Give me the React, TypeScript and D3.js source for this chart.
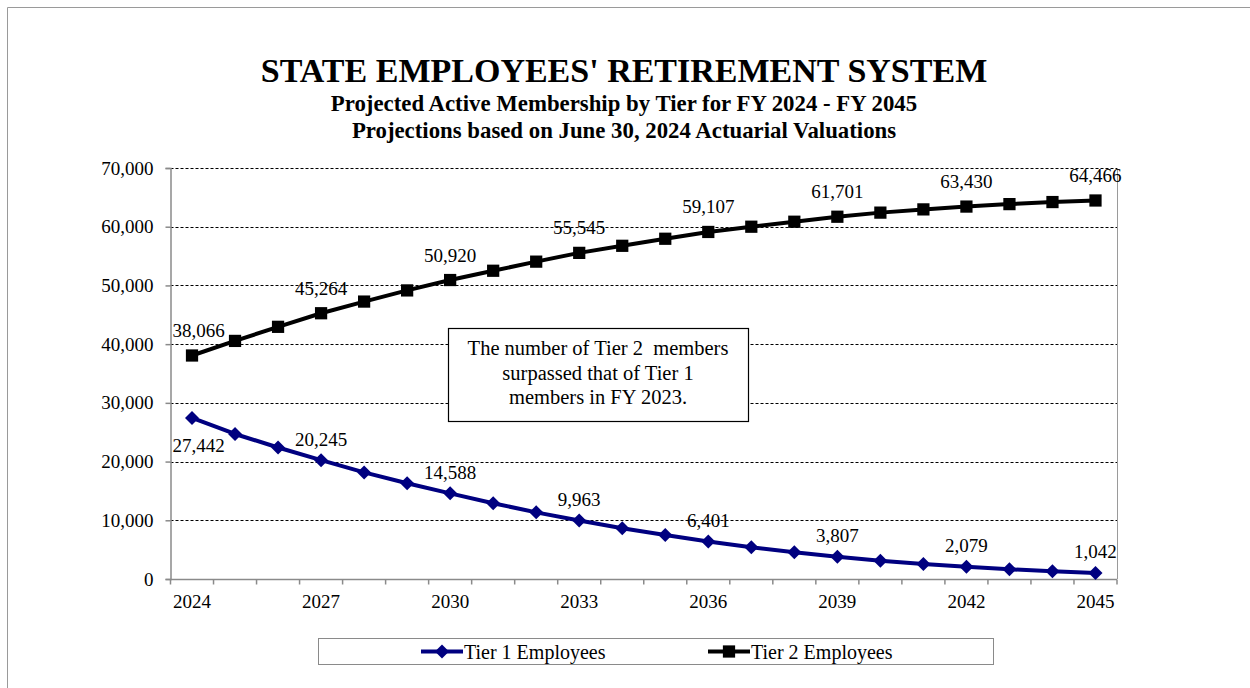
import { useEffect, useRef } from 'react';
import * as d3 from 'd3';

const years = [2024, 2025, 2026, 2027, 2028, 2029, 2030, 2031, 2032, 2033, 2034, 2035, 2036, 2037, 2038, 2039, 2040, 2041, 2042, 2043, 2044, 2045];
const tier1 = [27442, 24700, 22400, 20245, 18150, 16300, 14588, 12900, 11350, 9963, 8650, 7500, 6401, 5400, 4550, 3807, 3100, 2550, 2079, 1650, 1320, 1042];
const tier2 = [38066, 40550, 42950, 45264, 47250, 49150, 50920, 52500, 54050, 55545, 56750, 57950, 59107, 60000, 60850, 61701, 62400, 62950, 63430, 63850, 64200, 64466];
const yTicks = [0, 10000, 20000, 30000, 40000, 50000, 60000, 70000];
const seriesNames = ['Tier 1 Employees', 'Tier 2 Employees'];
const title = "STATE EMPLOYEES' RETIREMENT SYSTEM";
const subtitles = [
  'Projected Active Membership by Tier for FY 2024 - FY 2045',
  'Projections based on June 30, 2024 Actuarial Valuations',
];
const note = ['The number of Tier 2  members', 'surpassed that of Tier 1', 'members in FY 2023.'];

const FONT = '"Liberation Serif", "Times New Roman", "DejaVu Serif", serif';
const NAVY = '#000080';

export default function App() {
  const svgRef = useRef<SVGSVGElement | null>(null);

  useEffect(() => {
    const width = 1250;
    const height = 688;
    const margin = { top: 168, right: 133, bottom: 109, left: 170.5 };

    const svg = d3.select(svgRef.current);
    svg.selectAll('*').remove();
    svg.attr('width', width).attr('height', height).style('font-family', FONT).style('display', 'block');

    svg.append('rect').attr('width', width).attr('height', height).attr('fill', '#fff');

    // outer chart border, only left and top fall inside the view
    svg.append('path')
      .attr('d', `M7.5,${height}V7.5H${width}`)
      .attr('fill', 'none')
      .attr('stroke', '#9a9a9a')
      .attr('stroke-width', 1);

    const xScale = d3.scaleBand<number>()
      .domain(years)
      .range([margin.left, width - margin.right])
      .padding(0);

    const yScale = d3.scaleLinear()
      .domain([0, 70000])
      .range([height - margin.bottom, margin.top]);

    const cx = (yr: number) => xScale(yr)! + xScale.bandwidth() / 2;
    const plotRight = width - margin.right;
    const plotBottom = height - margin.bottom;

    // titles
    svg.append('text')
      .attr('x', 624).attr('y', 82)
      .attr('text-anchor', 'middle')
      .attr('font-size', 34).attr('font-weight', 'bold')
      .text(title);
    subtitles.forEach((s, i) => {
      svg.append('text')
        .attr('x', 624).attr('y', 111 + i * 27)
        .attr('text-anchor', 'middle')
        .attr('font-size', 22.8).attr('font-weight', 'bold')
        .text(s);
    });

    const g = svg.append('g');

    // gridlines
    g.selectAll('line.grid')
      .data(yTicks.filter(d => d > 0))
      .enter()
      .append('line')
      .attr('class', 'grid')
      .attr('x1', margin.left).attr('x2', plotRight)
      .attr('y1', d => Math.round(yScale(d)) + 0.5)
      .attr('y2', d => Math.round(yScale(d)) + 0.5)
      .attr('stroke', '#000')
      .attr('stroke-width', 1)
      .attr('stroke-dasharray', '3,2');

    // right border of plot area
    g.append('line')
      .attr('x1', plotRight + 0.5).attr('x2', plotRight + 0.5)
      .attr('y1', margin.top).attr('y2', plotBottom)
      .attr('stroke', '#9a9a9a');

    // y axis
    const yAxis = g.append('g')
      .attr('transform', `translate(${margin.left},0)`)
      .call(d3.axisLeft(yScale).tickValues(yTicks).tickSize(5).tickPadding(12).tickFormat(d => d3.format(',')(+d)));
    yAxis.select('.domain').attr('stroke', '#8a8a8a').attr('stroke-width', 1.5);
    yAxis.selectAll('.tick line').attr('stroke', '#8a8a8a').attr('stroke-width', 1.5);
    yAxis.selectAll('.tick text')
      .attr('fill', '#000')
      .attr('font-size', 19)
      .attr('font-family', FONT);

    // x axis
    const xAxisG = g.append('g');
    xAxisG.append('line')
      .attr('x1', margin.left).attr('x2', plotRight)
      .attr('y1', plotBottom + 0.5).attr('y2', plotBottom + 0.5)
      .attr('stroke', '#8a8a8a').attr('stroke-width', 1.5);
    const bounds = years.map(y => xScale(y)!).concat([plotRight]);
    xAxisG.selectAll('line.xtick')
      .data(bounds)
      .enter()
      .append('line')
      .attr('class', 'xtick')
      .attr('x1', d => d).attr('x2', d => d)
      .attr('y1', plotBottom + 0.5).attr('y2', plotBottom + 5.5)
      .attr('stroke', '#8a8a8a').attr('stroke-width', 1.5);
    xAxisG.selectAll('text.xlab')
      .data(years.filter((_, i) => i % 3 === 0))
      .enter()
      .append('text')
      .attr('class', 'xlab')
      .attr('x', d => cx(d))
      .attr('y', plotBottom + 29)
      .attr('text-anchor', 'middle')
      .attr('font-size', 19)
      .text(d => d);

    // lines
    const line = d3.line<number>()
      .x((_, i) => cx(years[i]))
      .y(d => yScale(d));

    g.append('path')
      .datum(tier2)
      .attr('d', line)
      .attr('fill', 'none')
      .attr('stroke', '#000')
      .attr('stroke-width', 4)
      .attr('stroke-linejoin', 'round');

    g.append('path')
      .datum(tier1)
      .attr('d', line)
      .attr('fill', 'none')
      .attr('stroke', NAVY)
      .attr('stroke-width', 4)
      .attr('stroke-linejoin', 'round');

    const square = d3.symbol().type(d3.symbolSquare).size(150)();
    const diamond = 'M0,-7L7,0L0,7L-7,0Z';

    g.selectAll('path.sq')
      .data(tier2)
      .enter()
      .append('path')
      .attr('class', 'sq')
      .attr('d', square)
      .attr('transform', (d, i) => `translate(${cx(years[i])},${yScale(d)})`)
      .attr('fill', '#000');

    g.selectAll('path.dm')
      .data(tier1)
      .enter()
      .append('path')
      .attr('class', 'dm')
      .attr('d', diamond)
      .attr('transform', (d, i) => `translate(${cx(years[i])},${yScale(d)})`)
      .attr('fill', NAVY);

    // data labels every third year
    const fmt = d3.format(',');
    const addLabels = (vals: number[], above: number, firstBelow: number | null) => {
      vals.forEach((v, i) => {
        if (i % 3 !== 0) return;
        const x = cx(years[i]);
        const yv = yScale(v);
        const dy = i === 0 && firstBelow !== null ? firstBelow : -above;
        const t = g.append('text')
          .attr('y', yv + dy)
          .attr('text-anchor', 'middle')
          .attr('font-size', 19)
          .text(fmt(v));
        const w = (t.node() as SVGTextElement).getComputedTextLength();
        t.attr('x', Math.max(x, margin.left + w / 2 + 2));
      });
    };
    addLabels(tier2, 18.5, null);
    addLabels(tier1, 14.5, 34.5);

    // annotation
    const noteG = svg.append('g');
    noteG.append('rect')
      .attr('x', 448.5).attr('y', 328.5)
      .attr('width', 300).attr('height', 93)
      .attr('fill', '#fff')
      .attr('stroke', '#000')
      .attr('stroke-width', 1.2);
    note.forEach((s, i) => {
      noteG.append('text')
        .attr('x', 598).attr('y', 355 + i * 24.5)
        .attr('text-anchor', 'middle')
        .attr('font-size', 20.5)
        .style('white-space', 'pre')
        .text(s);
    });

    // legend
    const lg = svg.append('g');
    lg.append('rect')
      .attr('x', 318.5).attr('y', 638.5)
      .attr('width', 675).attr('height', 26)
      .attr('fill', '#fff')
      .attr('stroke', '#8a8a8a');
    const items = [
      { name: seriesNames[0], color: NAVY, mark: diamond, x0: 421 },
      { name: seriesNames[1], color: '#000', mark: square, x0: 708 },
    ];
    items.forEach(it => {
      lg.append('line')
        .attr('x1', it.x0).attr('x2', it.x0 + 42)
        .attr('y1', 651.5).attr('y2', 651.5)
        .attr('stroke', it.color).attr('stroke-width', 4);
      lg.append('path')
        .attr('d', it.mark)
        .attr('transform', `translate(${it.x0 + 21},651.5)`)
        .attr('fill', it.color);
      lg.append('text')
        .attr('x', it.x0 + 43).attr('y', 658.5)
        .attr('font-size', 20)
        .text(it.name);
    });
  }, []);

  return (
    <div style={{ position: 'absolute', left: 0, top: 0, width: 1250, height: 688, overflow: 'hidden', background: '#fff' }}>
      <svg ref={svgRef} />
    </div>
  );
}
